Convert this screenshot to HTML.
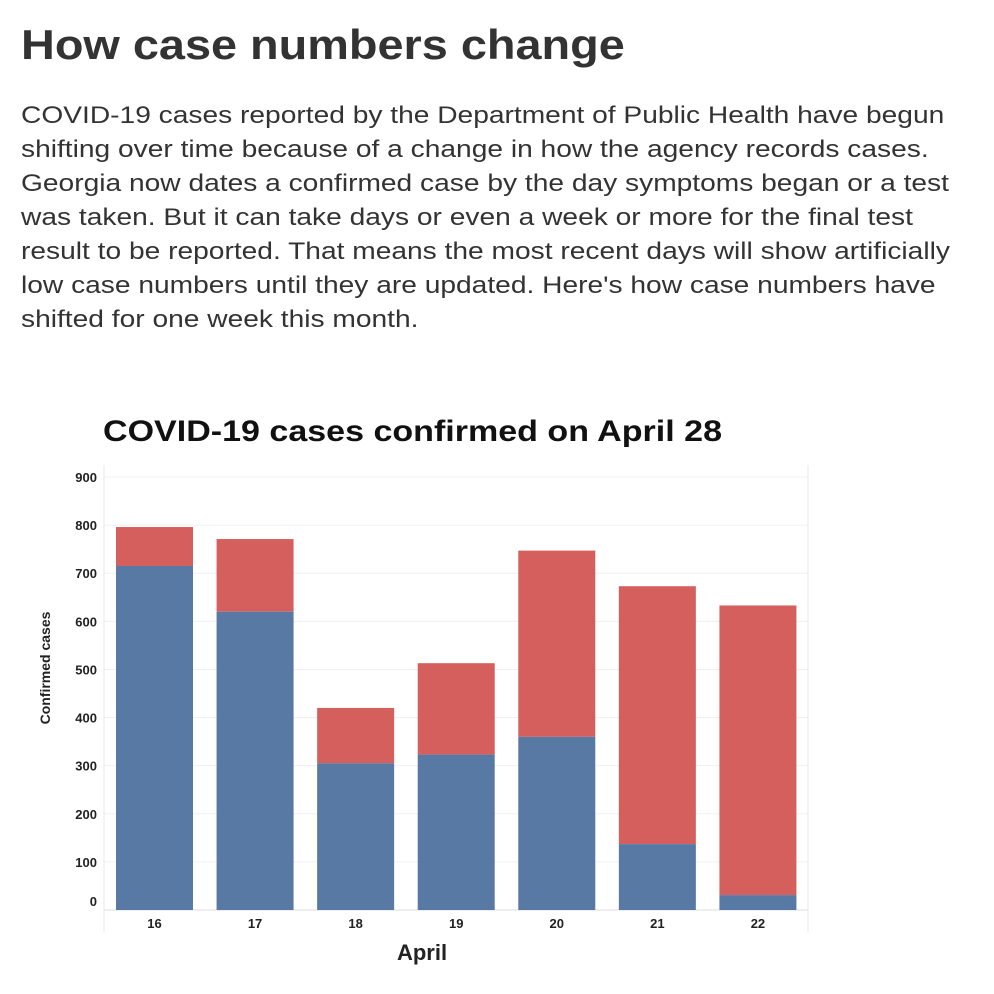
<!DOCTYPE html>
<html><head><meta charset="utf-8"><style>
body{margin:0;width:994px;height:994px;background:#fff;font-family:"Liberation Sans",Arial,sans-serif;color:#333;overflow:hidden;position:relative}
h1{position:absolute;left:21px;top:21px;margin:0;font-size:42px;font-weight:bold;color:#333;white-space:nowrap;transform:scaleX(1.115);transform-origin:0 0}
p{position:absolute;left:21px;top:99px;margin:0;font-size:24px;line-height:34px;color:#333;white-space:nowrap;transform:scaleX(1.173);transform-origin:0 0}
svg{position:absolute;left:0;top:0}
</style></head><body>
<h1>How case numbers change</h1>
<p>COVID-19 cases reported by the Department of Public Health have begun<br>shifting over time because of a change in how the agency records cases.<br>Georgia now dates a confirmed case by the day symptoms began or a test<br>was taken. But it can take days or even a week or more for the final test<br>result to be reported. That means the most recent days will show artificially<br>low case numbers until they are updated. Here's how case numbers have<br>shifted for one week this month.</p>
<svg id="chart" width="994" height="994">
<text x="103" y="441" textLength="619" lengthAdjust="spacingAndGlyphs" font-size="30" font-weight="bold" fill="#111">COVID-19 cases confirmed on April 28</text>
<text transform="translate(50,668) rotate(-90)" text-anchor="middle" font-size="14" font-weight="bold" fill="#222">Confirmed cases</text>
<text x="422" y="960" text-anchor="middle" font-size="22" font-weight="bold" fill="#222">April</text>
</svg>
<script>
const categories=["16","17","18","19","20","21","22"];
const blueValues=[715,620,305,323,360,137,31];
const totalValues=[796,771,420,513,747,673,633];
const yTicks=[0,100,200,300,400,500,600,700,800,900];
const svg=document.getElementById('chart');
const NS='http://www.w3.org/2000/svg';
const left=104,right=808,base=910,top900=477;
function y(v){return base-(v/900)*(base-top900);}
const step=(right-left)/categories.length;
function x(i){return left+step*i+12;}
const bw=77;
function mk(t,a){const e=document.createElementNS(NS,t);for(const k in a)e.setAttribute(k,a[k]);svg.appendChild(e);return e;}
yTicks.forEach(t=>{
 const g=mk('line',{x1:left,x2:right,y1:y(t),y2:y(t),stroke:t===0?'#ddd':'#f0f0f0','stroke-width':1});
 
 
 const l=mk('text',{x:97,y:(t===0?y(t)-4:y(t)+5),'text-anchor':'end','font-size':13,'font-weight':'bold',fill:'#222'});
 l.textContent=t;
 
 
});
const lb=mk('line',{x1:left,x2:left,y1:465,y2:932,stroke:'#e8e8e8'});


const rb=mk('line',{x1:right,x2:right,y1:465,y2:932,stroke:'#e8e8e8'});


categories.forEach((c,i)=>{
 const r=mk('rect',{x:x(i),y:y(totalValues[i]),width:bw,height:y(blueValues[i])-y(totalValues[i]),fill:'#d45f5d'});
 
 
 const b=mk('rect',{x:x(i),y:y(blueValues[i]),width:bw,height:base-y(blueValues[i]),fill:'#5779a4'});
 
 
 const t=mk('text',{x:x(i)+bw/2,y:928,'text-anchor':'middle','font-size':13,'font-weight':'bold',fill:'#222'});
 t.textContent=c;
 
 
});
</script>
</body></html>
